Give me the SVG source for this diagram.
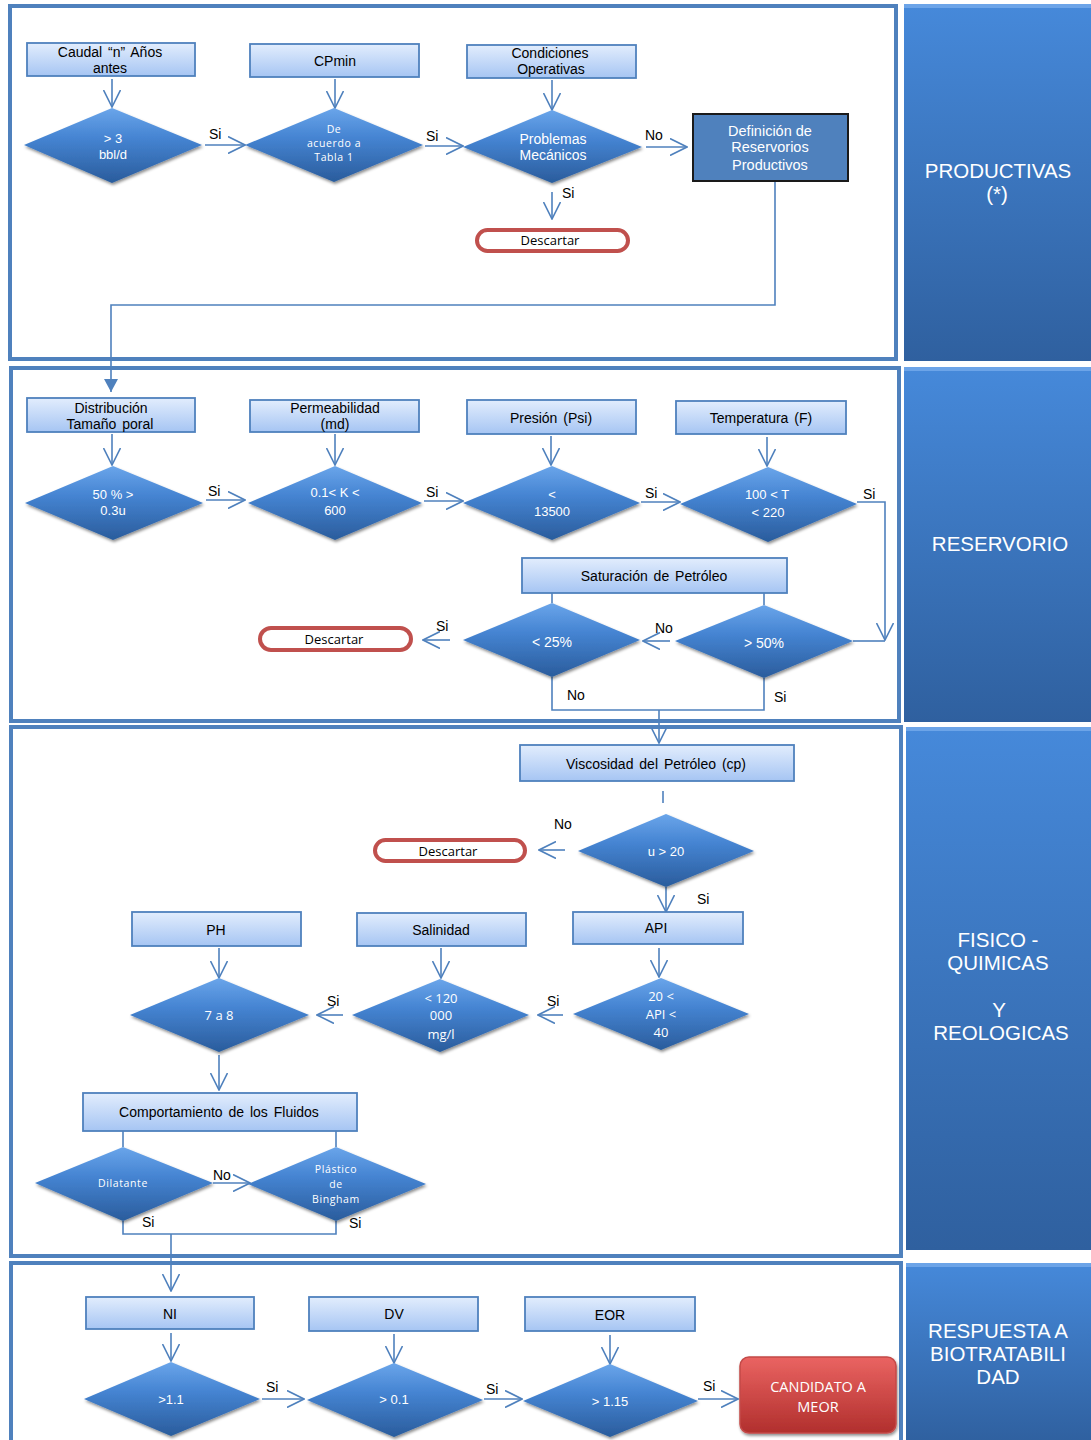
<svg xmlns="http://www.w3.org/2000/svg" width="1091" height="1440" viewBox="0 0 1091 1440">
<defs>
<linearGradient id="gBox" x1="0" y1="0" x2="0" y2="1"><stop offset="0" stop-color="#E2EDFD"/><stop offset="1" stop-color="#A6C5F3"/></linearGradient>
<linearGradient id="gDia" x1="0" y1="0" x2="0" y2="1"><stop offset="0" stop-color="#6AA5EA"/><stop offset="0.4" stop-color="#4584D2"/><stop offset="1" stop-color="#2A5C9C"/></linearGradient>
<linearGradient id="gPanel" x1="0" y1="0" x2="0" y2="1"><stop offset="0" stop-color="#4689DA"/><stop offset="1" stop-color="#2F609F"/></linearGradient>
<linearGradient id="gRed" x1="0" y1="0" x2="0" y2="1"><stop offset="0" stop-color="#EA6462"/><stop offset="1" stop-color="#B12F2D"/></linearGradient>
<filter id="sh" x="-10%" y="-10%" width="130%" height="140%"><feDropShadow dx="1" dy="2" stdDeviation="1.5" flood-color="#000" flood-opacity="0.45"/></filter>
<marker id="ah" viewBox="0 0 18 18" refX="17" refY="9" markerWidth="18" markerHeight="18" markerUnits="userSpaceOnUse" orient="auto"><path d="M0,0.5 L17,9 L0,17.5" fill="none" stroke="#4F81BD" stroke-width="1.6"/></marker>
<marker id="af" viewBox="0 0 14 14" refX="13" refY="7" markerWidth="14" markerHeight="14" markerUnits="userSpaceOnUse" orient="auto"><path d="M0,0 L13,7 L0,14 Z" fill="#4F81BD"/></marker>
</defs>
<style>
.frame{fill:#fff;stroke:#4F81BD;stroke-width:4}
.panel{fill:url(#gPanel)}
.ptxt{font-family:"Liberation Sans",Arial,sans-serif;font-size:20.5px;fill:#fff;text-anchor:middle}
.box{fill:url(#gBox);stroke:#4F81BD;stroke-width:1.8}
.btxt{font-family:"Liberation Sans",Arial,sans-serif;font-size:14px;fill:#000;text-anchor:middle;word-spacing:2px}
.dia{fill:url(#gDia);filter:url(#sh)}
.dtxt{font-family:"Liberation Sans",Arial,sans-serif;font-size:13px;fill:#fff;text-anchor:middle}
.dtxs{font-family:"Open Sans","Noto Sans",sans-serif;font-size:10.5px;fill:#fff;text-anchor:middle;letter-spacing:0.6px}
.dtxc{font-family:"Open Sans","Noto Sans",sans-serif;font-size:13px;fill:#fff;text-anchor:middle}
.pill{fill:#fff;stroke:#C0504D;stroke-width:4}
.ptx{font-family:"Open Sans","Noto Sans",sans-serif;font-size:13px;fill:#000;text-anchor:middle}
.ln{fill:none;stroke:#4F81BD;stroke-width:1.6}
.ar{fill:none;stroke:#4F81BD;stroke-width:1.6;marker-end:url(#ah)}
.lbl{font-family:"Liberation Sans",Arial,sans-serif;font-size:14px;fill:#000}
</style>

<g id="frames">
<rect class="frame" x="10" y="6" width="886" height="353"/>
<rect class="frame" x="11" y="368" width="888" height="353"/>
<rect class="frame" x="11" y="727" width="890" height="529"/>
<rect class="frame" x="11" y="1263" width="890" height="200"/>
</g>

<g id="panels">
<g id="panel-productivas"><rect class="panel" x="904" y="4" width="187" height="357"/><rect x="904" y="4" width="187" height="4" fill="#6CA4E8"/>
<text class="ptxt" x="998" y="178">PRODUCTIVAS</text><text class="ptxt" x="997" y="201">(*)</text></g>
<g id="panel-reservorio"><rect class="panel" x="904" y="367" width="187" height="355"/><rect x="904" y="367" width="187" height="4" fill="#6CA4E8"/>
<text class="ptxt" x="1000" y="551">RESERVORIO</text></g>
<g id="panel-fisico"><rect class="panel" x="906" y="727" width="185" height="523"/><rect x="906" y="727" width="185" height="4" fill="#6CA4E8"/>
<text class="ptxt" x="998" y="947">FISICO -</text><text class="ptxt" x="998" y="970">QUIMICAS</text><text class="ptxt" x="999" y="1017">Y</text><text class="ptxt" x="1001" y="1040">REOLOGICAS</text></g>
<g id="panel-respuesta"><rect class="panel" x="906" y="1263" width="185" height="180"/><rect x="906" y="1263" width="185" height="4" fill="#6CA4E8"/>
<text class="ptxt" x="998" y="1338">RESPUESTA A</text><text class="ptxt" x="998" y="1361">BIOTRATABILI</text><text class="ptxt" x="998" y="1384">DAD</text></g>
</g>

<g id="connectors">
<line class="ar" x1="112" y1="79" x2="112" y2="107"/>
<line class="ar" x1="335" y1="79" x2="335" y2="108"/>
<line class="ar" x1="552" y1="80" x2="552" y2="110"/>
<line class="ar" x1="205" y1="145" x2="245" y2="145"/>
<line class="ar" x1="425" y1="146" x2="463" y2="146"/>
<line class="ar" x1="646" y1="147" x2="687" y2="147"/>
<line class="ar" x1="552" y1="192" x2="552" y2="219"/>
<polyline class="ln" points="775,181 775,305 111,305 111,392" style="marker-end:url(#af)"/>

<line class="ar" x1="112" y1="434" x2="112" y2="465"/>
<line class="ar" x1="335" y1="434" x2="335" y2="465"/>
<line class="ar" x1="551" y1="436" x2="551" y2="465"/>
<line class="ar" x1="767" y1="437" x2="767" y2="466"/>
<line class="ar" x1="206" y1="500" x2="245" y2="500"/>
<line class="ar" x1="424" y1="501" x2="463" y2="501"/>
<line class="ar" x1="641" y1="502" x2="680" y2="502"/>
<polyline class="ar" points="857,502 885,502 885,640"/>
<line class="ln" x1="853" y1="641" x2="885" y2="641"/>
<line class="ln" x1="552" y1="593" x2="552" y2="603"/>
<line class="ln" x1="764" y1="593" x2="764" y2="605"/>
<line class="ar" x1="670" y1="641" x2="643" y2="641"/>
<line class="ar" x1="450" y1="640" x2="423" y2="640"/>
<polyline class="ln" points="552,677 552,710 764,710 764,678"/>
<line class="ar" x1="659" y1="710" x2="659" y2="743"/>

<line class="ln" x1="663" y1="791" x2="663" y2="803"/>
<line class="ar" x1="565" y1="850" x2="539" y2="850"/>
<line class="ar" x1="666" y1="887" x2="666" y2="912"/>
<line class="ar" x1="659" y1="948" x2="659" y2="977"/>
<line class="ar" x1="441" y1="948" x2="441" y2="978"/>
<line class="ar" x1="219" y1="948" x2="219" y2="978"/>
<line class="ar" x1="563" y1="1015" x2="538" y2="1015"/>
<line class="ar" x1="343" y1="1015" x2="317" y2="1015"/>
<line class="ar" x1="219" y1="1055" x2="219" y2="1090"/>
<line class="ln" x1="123" y1="1131" x2="123" y2="1147"/>
<line class="ln" x1="336" y1="1131" x2="336" y2="1147"/>
<line class="ar" x1="213" y1="1183" x2="250" y2="1183"/>
<polyline class="ln" points="123,1221 123,1234 336,1234 336,1221"/>
<line class="ar" x1="171" y1="1234" x2="171" y2="1291"/>

<line class="ar" x1="171" y1="1333" x2="171" y2="1361"/>
<line class="ar" x1="394" y1="1334" x2="394" y2="1363"/>
<line class="ar" x1="610" y1="1335" x2="610" y2="1364"/>
<line class="ar" x1="262" y1="1399" x2="304" y2="1399"/>
<line class="ar" x1="484" y1="1399" x2="522" y2="1399"/>
<line class="ar" x1="698" y1="1399" x2="738" y2="1399"/>

<g id="labels">
<text class="lbl" x="209" y="139">Si</text>
<text class="lbl" x="426" y="141">Si</text>
<text class="lbl" x="645" y="140">No</text>
<text class="lbl" x="562" y="198">Si</text>
<text class="lbl" x="208" y="496">Si</text>
<text class="lbl" x="426" y="497">Si</text>
<text class="lbl" x="645" y="498">Si</text>
<text class="lbl" x="863" y="499">Si</text>
<text class="lbl" x="655" y="633">No</text>
<text class="lbl" x="436" y="631">Si</text>
<text class="lbl" x="567" y="700">No</text>
<text class="lbl" x="774" y="702">Si</text>
<text class="lbl" x="554" y="829">No</text>
<text class="lbl" x="697" y="904">Si</text>
<text class="lbl" x="547" y="1006">Si</text>
<text class="lbl" x="327" y="1006">Si</text>
<text class="lbl" x="213" y="1180">No</text>
<text class="lbl" x="142" y="1227">Si</text>
<text class="lbl" x="349" y="1228">Si</text>
<text class="lbl" x="266" y="1392">Si</text>
<text class="lbl" x="486" y="1394">Si</text>
<text class="lbl" x="703" y="1391">Si</text>
</g>
</g>

<g id="n-caudal"><rect class="box" x="27" y="43" width="168" height="33"/><text class="btxt" x="110" y="57">Caudal “n” Años</text><text class="btxt" x="110" y="73">antes</text></g>
<g id="n-cpmin"><rect class="box" x="250" y="44" width="169" height="33"/><text class="btxt" x="335" y="66">CPmin</text></g>
<g id="n-condiciones"><rect class="box" x="467" y="45" width="169" height="33"/><text class="btxt" x="550" y="58">Condiciones</text><text class="btxt" x="551" y="74">Operativas</text></g>
<g id="n-d-caudal"><polygon class="dia" points="24,145 112,108 202,145 112,183"/><text class="dtxt" x="113" y="143">&gt; 3</text><text class="dtxt" x="113" y="159">bbl/d</text></g>
<g id="n-d-cpmin"><polygon class="dia" points="245,145 334,108 423,145 334,182"/><text class="dtxs" x="334" y="133">De</text><text class="dtxs" x="334" y="147">acuerdo a</text><text class="dtxs" x="334" y="161">Tabla 1</text></g>
<g id="n-d-problemas"><polygon class="dia" points="463,147 552,110 642,147 552,183"/><text class="dtxt" x="553" y="144" style="font-size:14px">Problemas</text><text class="dtxt" x="553" y="160" style="font-size:14px">Mecánicos</text></g>
<g id="n-definicion"><rect x="693" y="114" width="155" height="67" fill="#4F81BD" stroke="#1A1A1A" stroke-width="2"/><text class="dtxt" x="770" y="136" style="font-size:14.5px">Definición de</text><text class="dtxt" x="770" y="152" style="font-size:14.5px">Reservorios</text><text class="dtxt" x="770" y="170" style="font-size:14.5px">Productivos</text></g>
<g id="n-descartar1"><rect class="pill" x="477" y="230" width="151" height="21" rx="10.5"/><text class="ptx" x="550" y="245">Descartar</text></g>

<g id="n-distribucion"><rect class="box" x="27" y="398" width="168" height="34"/><text class="btxt" x="111" y="413">Distribución</text><text class="btxt" x="110" y="429">Tamaño poral</text></g>
<g id="n-permeabilidad"><rect class="box" x="250" y="400" width="169" height="32"/><text class="btxt" x="335" y="413">Permeabilidad</text><text class="btxt" x="335" y="429">(md)</text></g>
<g id="n-presion"><rect class="box" x="467" y="400" width="169" height="34"/><text class="btxt" x="551" y="423">Presión (Psi)</text></g>
<g id="n-temperatura"><rect class="box" x="676" y="401" width="170" height="33"/><text class="btxt" x="761" y="423">Temperatura (F)</text></g>
<g id="n-d-poral"><polygon class="dia" points="25,503 113,466 203,503 113,540"/><text class="dtxt" x="113" y="499">50 % &gt;</text><text class="dtxt" x="113" y="515">0.3u</text></g>
<g id="n-d-k"><polygon class="dia" points="248,503 335,466 422,503 335,540"/><text class="dtxt" x="335" y="497">0.1&lt; K &lt;</text><text class="dtxt" x="335" y="515">600</text></g>
<g id="n-d-presion"><polygon class="dia" points="463,503 552,466 640,503 552,540"/><text class="dtxt" x="552" y="499">&lt;</text><text class="dtxt" x="552" y="516">13500</text></g>
<g id="n-d-temp"><polygon class="dia" points="680,504 768,467 857,504 768,542"/><text class="dtxt" x="767" y="499">100 &lt; T</text><text class="dtxt" x="768" y="517">&lt; 220</text></g>
<g id="n-saturacion"><rect class="box" x="522" y="558" width="265" height="35"/><text class="btxt" x="654" y="581">Saturación de Petróleo</text></g>
<g id="n-d-25"><polygon class="dia" points="463,640 552,603 640,640 552,677"/><text class="dtxt" x="552" y="647" style="font-size:14px">&lt; 25%</text></g>
<g id="n-d-50"><polygon class="dia" points="675,641 764,605 853,641 764,678"/><text class="dtxt" x="764" y="648" style="font-size:14px">&gt; 50%</text></g>
<g id="n-descartar2"><rect class="pill" x="260" y="628" width="151" height="22" rx="11"/><text class="ptx" x="334" y="644">Descartar</text></g>

<g id="n-viscosidad"><rect class="box" x="520" y="745" width="274" height="36"/><text class="btxt" x="656" y="769">Viscosidad del Petróleo (cp)</text></g>
<g id="n-d-u"><polygon class="dia" points="578,851 666,814 754,851 666,887"/><text class="dtxt" x="666" y="856">u &gt; 20</text></g>
<g id="n-descartar3"><rect class="pill" x="375" y="840" width="150" height="21" rx="10.5"/><text class="ptx" x="448" y="856">Descartar</text></g>
<g id="n-api"><rect class="box" x="573" y="912" width="170" height="32"/><text class="btxt" x="656" y="933">API</text></g>
<g id="n-salinidad"><rect class="box" x="357" y="913" width="169" height="33"/><text class="btxt" x="441" y="935">Salinidad</text></g>
<g id="n-ph"><rect class="box" x="132" y="912" width="169" height="34"/><text class="btxt" x="216" y="935">PH</text></g>
<g id="n-d-api"><polygon class="dia" points="573,1014 661,978 749,1014 661,1050"/><text class="dtxc" x="661" y="1001">20 &lt;</text><text class="dtxc" x="661" y="1019">API &lt;</text><text class="dtxc" x="661" y="1037">40</text></g>
<g id="n-d-sal"><polygon class="dia" points="352,1015 440,979 529,1015 440,1052"/><text class="dtxc" x="441" y="1003">&lt; 120</text><text class="dtxc" x="441" y="1020">000</text><text class="dtxc" x="441" y="1039">mg/l</text></g>
<g id="n-d-ph"><polygon class="dia" points="130,1015 219,978 309,1015 219,1052"/><text class="dtxc" x="219" y="1020">7 a 8</text></g>
<g id="n-comportamiento"><rect class="box" x="83" y="1093" width="274" height="38"/><text class="btxt" x="219" y="1117">Comportamiento de los Fluidos</text></g>
<g id="n-d-dilatante"><polygon class="dia" points="35,1183 123,1147 213,1183 123,1221"/><text class="dtxs" x="123" y="1187">Dilatante</text></g>
<g id="n-d-bingham"><polygon class="dia" points="248,1184 336,1147 426,1184 336,1221"/><text class="dtxs" x="336" y="1173">Plástico</text><text class="dtxs" x="336" y="1188">de</text><text class="dtxs" x="336" y="1203">Bingham</text></g>

<g id="n-ni"><rect class="box" x="86" y="1297" width="168" height="32"/><text class="btxt" x="170" y="1319">NI</text></g>
<g id="n-dv"><rect class="box" x="309" y="1297" width="169" height="34"/><text class="btxt" x="394" y="1319">DV</text></g>
<g id="n-eor"><rect class="box" x="525" y="1297" width="170" height="34"/><text class="btxt" x="610" y="1320">EOR</text></g>
<g id="n-d-ni"><polygon class="dia" points="84,1399 171,1362 260,1399 171,1436"/><text class="dtxt" x="171" y="1404">&gt;1.1</text></g>
<g id="n-d-dv"><polygon class="dia" points="307,1400 394,1363 483,1400 394,1437"/><text class="dtxt" x="394" y="1404">&gt; 0.1</text></g>
<g id="n-d-eor"><polygon class="dia" points="523,1401 610,1364 698,1401 610,1437"/><text class="dtxt" x="610" y="1406">&gt; 1.15</text></g>
<g id="n-candidato"><rect x="740" y="1357" width="156" height="76" rx="9" fill="url(#gRed)" stroke="#C44A48" stroke-width="1.5" filter="url(#sh)"/><text class="dtxc" x="818" y="1392" style="font-size:14.5px">CANDIDATO A</text><text class="dtxc" x="818" y="1412" style="font-size:14.5px">MEOR</text></g>
</svg>
